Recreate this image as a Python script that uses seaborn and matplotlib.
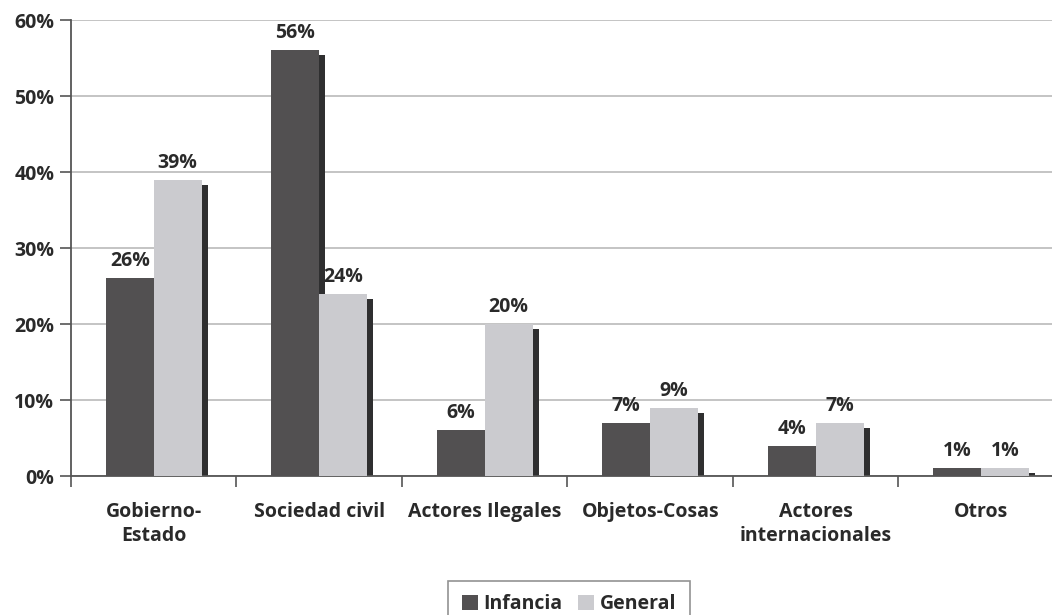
import numpy as np
import pandas as pd
import matplotlib
matplotlib.use("Agg")
import matplotlib.pyplot as plt
from matplotlib.patches import Rectangle, Patch
from matplotlib.ticker import FixedLocator, PercentFormatter
import seaborn as sns

# Data
categorias = ["Gobierno-\nEstado", "Sociedad civil", "Actores Ilegales",
              "Objetos-Cosas", "Actores\ninternacionales", "Otros"]
infancia = [26, 56, 6, 7, 4, 1]
general = [39, 24, 20, 9, 7, 1]
series = ["Infancia", "General"]

df = pd.DataFrame({
    "categoria": categorias * 2,
    "valor": infancia + general,
    "serie": [series[0]] * len(categorias) + [series[1]] * len(categorias),
})

colores = {"Infancia": "#525051", "General": "#cbcbcf"}
sombra = "#2f2f30"
texto = "#2a2a2a"
fs = 14

sns.set_theme(style="white")
plt.rcParams["font.family"] = ["Open Sans", "DejaVu Sans"]
plt.rcParams["font.weight"] = "bold"

fig = plt.figure(figsize=(10.52, 6.15), dpi=100)
ax = fig.add_axes([71 / 1052, 1 - 476 / 615, 1 - 71 / 1052, 456 / 615])

sns.barplot(data=df, x="categoria", y="valor", hue="serie", palette=colores,
            width=0.58, gap=0, saturation=1, linewidth=0, ax=ax, legend=False,
            zorder=3)

ax.set_xlim(-0.5, 5.428)
ax.set_ylim(0, 60)

# Drop shadow behind each bar, offset right and down
px_x = 1 / 165.5
px_y = 60 / 456
bars = [p for p in ax.patches if isinstance(p, Rectangle) and p.get_height() > 0]
for p in bars:
    h = p.get_height()
    ax.add_patch(Rectangle((p.get_x() + 6 * px_x, 0), p.get_width(),
                           max(h - 5 * px_y, 0.3), facecolor=sombra,
                           edgecolor="none", zorder=2))

# Value labels
for cont in ax.containers:
    ax.bar_label(cont, labels=[f"{int(round(v))}%" for v in cont.datavalues],
                 padding=5, fontsize=fs, fontweight="bold", color=texto)

# Grid and axes
ax.yaxis.set_major_locator(FixedLocator(np.arange(0, 61, 10)))
ax.yaxis.set_major_formatter(PercentFormatter(decimals=0))
ax.grid(axis="y", color="#c4c4c4", linewidth=1.4, zorder=0)
ax.set_axisbelow(True)

for s in ["top", "right"]:
    ax.spines[s].set_visible(False)
for s in ["left", "bottom"]:
    ax.spines[s].set_color("#555555")
    ax.spines[s].set_linewidth(1.3)

ax.tick_params(axis="y", which="major", left=True, direction="out", length=8,
               width=1.2, color="#555555", pad=4, labelsize=fs,
               labelcolor=texto)
ax.tick_params(axis="x", which="major", bottom=False, pad=13, labelsize=fs,
               labelcolor=texto)
ax.xaxis.set_minor_locator(FixedLocator(np.arange(-0.5, 6, 1)))
ax.tick_params(axis="x", which="minor", bottom=True, direction="out", length=8,
               width=1.2, color="#555555")
for lab in ax.get_xticklabels() + ax.get_yticklabels():
    lab.set_fontweight("bold")
for lab in ax.get_xticklabels():
    lab.set_verticalalignment("top")
    lab.set_linespacing(1.25)
ax.set_xlabel("")
ax.set_ylabel("")

# Legend, its lower edge running past the bottom of the figure
handles = [Patch(facecolor=colores[s], edgecolor="none", label=s) for s in series]
leg = fig.legend(handles=handles, loc="upper center", ncol=2,
                 bbox_to_anchor=(569 / 1052, 1 - 571 / 615), frameon=True,
                 fancybox=False, edgecolor="#777777", handlelength=0.8,
                 handleheight=0.8, handletextpad=0.3, columnspacing=0.8,
                 borderpad=0.7, prop={"size": fs, "weight": "bold"})
leg.get_frame().set_linewidth(1.2)
for t in leg.get_texts():
    t.set_color(texto)

fig.savefig("out.png", dpi=100, facecolor="white")
